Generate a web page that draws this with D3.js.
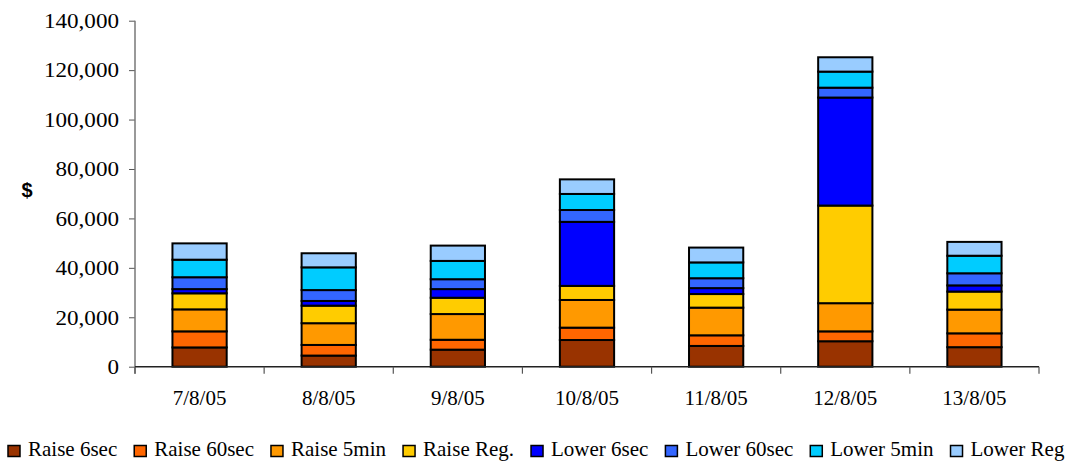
<!DOCTYPE html>
<html>
<head>
<meta charset="utf-8">
<script src="https://cdn.jsdelivr.net/npm/d3@7/dist/d3.min.js"></script>
<style>
  html, body { margin: 0; padding: 0; background: #fff; }
  svg { display: block; }
  text { font-family: "Liberation Serif", "Times New Roman", serif; fill: #000; }
</style>
</head>
<body>
<svg id="chart" width="1069" height="463"></svg>
<script>
// Daily FCAS costs by service ($)
const dates = ["7/8/05", "8/8/05", "9/8/05", "10/8/05", "11/8/05", "12/8/05", "13/8/05"];
const services = ["Raise 6sec", "Raise 60sec", "Raise 5min", "Raise Reg.", "Lower 6sec", "Lower 60sec", "Lower 5min", "Lower Reg"];
const colors = ["#993300", "#FF6600", "#FF9900", "#FFCC00", "#0000FF", "#3366FF", "#00CCFF", "#99CCFF"];

const raise6sec  = [7800, 4500, 6900, 10800, 8400, 10300, 7900];
const raise60sec = [6500, 4300, 4000, 5000, 4300, 4000, 5600];
const raise5min  = [8900, 8800, 10400, 11200, 11200, 11400, 9600];
const raiseReg   = [6500, 7100, 6600, 5700, 5500, 39500, 7300];
const lower6sec  = [1700, 1900, 3500, 25900, 2400, 43700, 2500];
const lower60sec = [4800, 4400, 4000, 4800, 4000, 4000, 4900];
const lower5min  = [7100, 9200, 7400, 6500, 6400, 6500, 7100];
const lowerReg   = [6600, 5700, 6200, 5900, 6000, 5800, 5600];

const yTicks = [0, 20000, 40000, 60000, 80000, 100000, 120000, 140000];

const seriesValues = [raise6sec, raise60sec, raise5min, raiseReg, lower6sec, lower60sec, lower5min, lowerReg];
const rows = dates.map((d, i) => {
  const r = { date: d };
  services.forEach((s, k) => { r[s] = seriesValues[k][i]; });
  return r;
});

const svg = d3.select("#chart");
const plotLeft = 135, plotRight = 1039, plotTop = 20.7, plotBottom = 366.7;

const y = d3.scaleLinear().domain([0, 140000]).range([plotBottom, plotTop]);
const xCat = d3.scaleBand().domain(dates).range([plotLeft, plotRight]).padding(0);
const xBar = d3.scaleBand().domain(dates).range([plotLeft, plotRight]).paddingInner(0.58).paddingOuter(0.29);

const layers = d3.stack().keys(services)(rows);

// stacked segments
const g = svg.append("g");
layers.forEach((layer, k) => {
  g.selectAll(null)
    .data(layer)
    .enter()
    .append("rect")
    .attr("x", d => xBar(d.data.date))
    .attr("width", xBar.bandwidth())
    .attr("y", d => y(d[1]))
    .attr("height", d => y(d[0]) - y(d[1]))
    .attr("fill", colors[k])
    .attr("stroke", "#000")
    .attr("stroke-width", 2);
});

// y axis
const yAxis = d3.axisLeft(y).tickValues(yTicks).tickSize(6).tickPadding(9)
  .tickFormat(d3.format(","));
const yg = svg.append("g").attr("transform", `translate(${plotLeft},0)`).call(yAxis);
yg.select(".domain").remove();
yg.selectAll(".tick line").attr("stroke", "#555");
yg.selectAll(".tick text")
  .attr("font-family", null).attr("font-size", null)
  .attr("x", 0)
  .attr("transform", "translate(-16,0) scale(1.1,1)")
  .style("font-size", "21px");
svg.append("line").attr("x1", plotLeft).attr("x2", plotLeft).attr("y1", plotTop).attr("y2", plotBottom + 7)
  .attr("stroke", "#777").attr("stroke-width", 1.5);

// x axis
svg.append("line").attr("x1", plotLeft).attr("x2", plotRight).attr("y1", plotBottom).attr("y2", plotBottom)
  .attr("stroke", "#222").attr("stroke-width", 1.5);
const boundaries = dates.map(d => xCat(d)).concat([xCat(dates[dates.length - 1]) + xCat.bandwidth()]);
svg.selectAll(null).data(boundaries).enter().append("line")
  .attr("x1", d => d).attr("x2", d => d)
  .attr("y1", plotBottom).attr("y2", plotBottom + 7)
  .attr("stroke", "#555").attr("stroke-width", 1.2);
svg.selectAll(null).data(dates).enter().append("text")
  .attr("x", d => xCat(d) + xCat.bandwidth() / 2)
  .attr("y", 405)
  .attr("text-anchor", "middle")
  .style("font-size", "21px")
  .text(d => d);

// y axis title
svg.append("text").attr("x", 27).attr("y", 197).attr("text-anchor", "middle")
  .style("font-family", "'Liberation Sans', Arial, sans-serif")
  .style("font-weight", "bold").style("font-size", "20px").text("$");

// legend
const legend = svg.append("g");
let lx = 8;
services.forEach((s, k) => {
  const item = legend.append("g").attr("transform", `translate(${lx},0)`);
  item.append("rect").attr("x", 0).attr("y", 445.5).attr("width", 12).attr("height", 11)
    .attr("fill", colors[k]).attr("stroke", "#000").attr("stroke-width", 1.5);
  const t = item.append("text").attr("x", 20).attr("y", 456).style("font-size", "21px").text(s);
  lx += 20 + t.node().getComputedTextLength() + 17;
});
</script>
</body>
</html>
